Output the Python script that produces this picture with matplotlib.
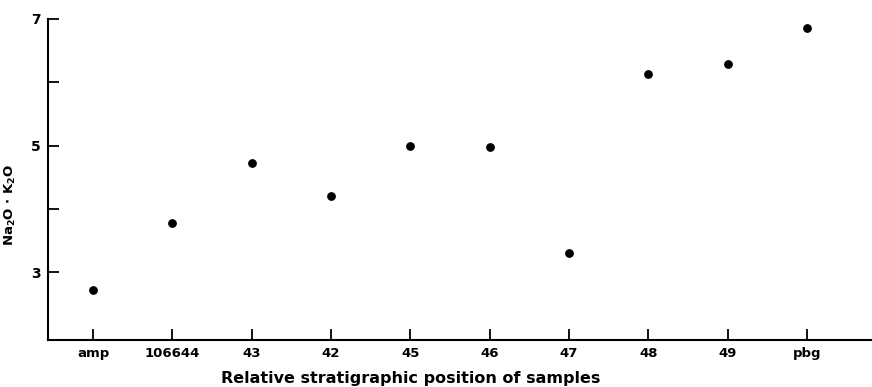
import matplotlib.pyplot as plt

samples = ['amp', '106644', '43', '42', '45', '46', '47', '48', '49', 'pbg']
alkali = [2.72, 3.78, 4.72, 4.2, 5.0, 4.98, 3.31, 6.13, 6.29, 6.85]

plt.rcParams['font.family'] = 'DejaVu Sans'
plt.rcParams['font.weight'] = 'bold'

fig = plt.figure(figsize=(8.72, 3.87), dpi=100)
ax = fig.add_axes([0.055, 0.121, 0.945, 0.830])

x = list(range(len(samples)))
ax.scatter(x, alkali, s=28, color='black', zorder=3)

ax.set_xlim(-0.57, 9.82)
ax.set_ylim(1.93, 7.0)
ax.spines['top'].set_visible(False)
ax.spines['right'].set_visible(False)
ax.spines['left'].set_linewidth(1.5)
ax.spines['bottom'].set_linewidth(1.5)

ax.set_xticks(x)
ax.set_xticklabels(samples, fontsize=9.5, fontweight='bold')
ax.set_yticks([3, 5, 7])
ax.set_yticks([4, 6], minor=True)
ax.set_yticklabels(['3', '5', '7'], fontsize=10, fontweight='bold')
ax.tick_params(axis='both', which='both', direction='in', length=8, width=1.3, pad=5)

ax.set_xlabel('Relative stratigraphic position of samples',
              fontsize=11.5, fontweight='bold')
ax.xaxis.set_label_coords(0.44, -0.095)
ax.set_ylabel(r'Na$_\mathbf{2}$O $\bullet$ K$_\mathbf{2}$O', fontsize=9.5, fontweight='bold')
ax.yaxis.set_label_coords(-0.036, 0.42)

fig.savefig('out.png', dpi=100)
